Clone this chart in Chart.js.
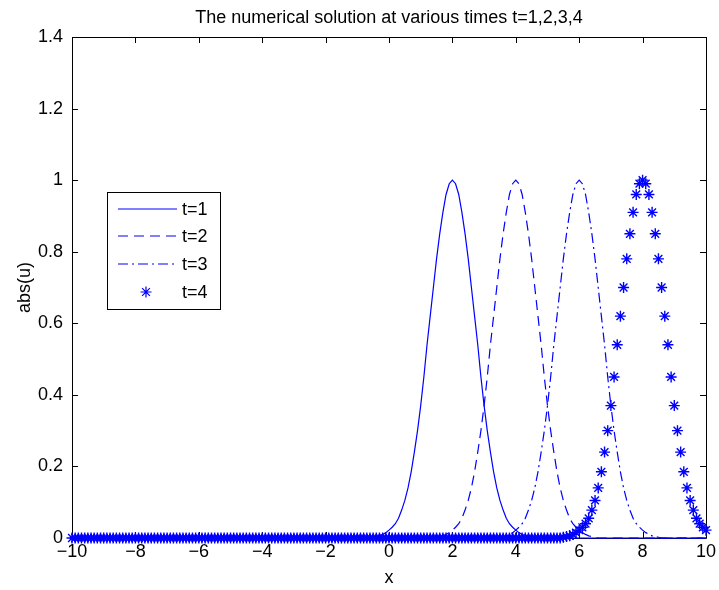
<!DOCTYPE html>
<html>
<head>
<meta charset="utf-8">
<script src="https://cdn.jsdelivr.net/npm/chart.js@4.4.1/dist/chart.umd.min.js"></script>
<style>
  html, body { margin: 0; padding: 0; background: #fff; }
  #wrap { width: 719px; height: 590px; }
</style>
</head>
<body>
<div id="wrap"><canvas id="c" width="719" height="590"></canvas></div>
<script>
// ---- data ----
const xGrid = [
-10,-9.9,-9.8,-9.7,-9.6,-9.5,-9.4,-9.3,-9.2,-9.1,
-9,-8.9,-8.8,-8.7,-8.6,-8.5,-8.4,-8.3,-8.2,-8.1,
-8,-7.9,-7.8,-7.7,-7.6,-7.5,-7.4,-7.3,-7.2,-7.1,
-7,-6.9,-6.8,-6.7,-6.6,-6.5,-6.4,-6.3,-6.2,-6.1,
-6,-5.9,-5.8,-5.7,-5.6,-5.5,-5.4,-5.3,-5.2,-5.1,
-5,-4.9,-4.8,-4.7,-4.6,-4.5,-4.4,-4.3,-4.2,-4.1,
-4,-3.9,-3.8,-3.7,-3.6,-3.5,-3.4,-3.3,-3.2,-3.1,
-3,-2.9,-2.8,-2.7,-2.6,-2.5,-2.4,-2.3,-2.2,-2.1,
-2,-1.9,-1.8,-1.7,-1.6,-1.5,-1.4,-1.3,-1.2,-1.1,
-1,-0.9,-0.8,-0.7,-0.6,-0.5,-0.4,-0.3,-0.2,-0.1,
0,0.1,0.2,0.3,0.4,0.5,0.6,0.7,0.8,0.9,
1,1.1,1.2,1.3,1.4,1.5,1.6,1.7,1.8,1.9,
2,2.1,2.2,2.3,2.4,2.5,2.6,2.7,2.8,2.9,
3,3.1,3.2,3.3,3.4,3.5,3.6,3.7,3.8,3.9,
4,4.1,4.2,4.3,4.4,4.5,4.6,4.7,4.8,4.9,
5,5.1,5.2,5.3,5.4,5.5,5.6,5.7,5.8,5.9,
6,6.1,6.2,6.3,6.4,6.5,6.6,6.7,6.8,6.9,
7,7.1,7.2,7.3,7.4,7.5,7.6,7.7,7.8,7.9,
8,8.1,8.2,8.3,8.4,8.5,8.6,8.7,8.8,8.9,
9,9.1,9.2,9.3,9.4,9.5,9.6,9.7,9.8,9.9,
10];

const u_t1 = [
0,0,0,0,0,0,0,0,0,0, 0,0,0,0,0,0,0,0,0,0, 0,0,0,0,0,0,0,0,0,0,
0,0,0,0,0,0,0,0,0,0, 0,0,0,0,0,0,0,0,0,0, 0,0,0,0,0,0,0,0,0,0,
0,0,0,0,0,0,0,0,0,0, 0,0,0,0,0,0,0,0,0,0, 0,0,0,0,0,0,0,0,0,0,
0,0,0,0,0,
.002,.004,.006,.01,.015,.022,.03,.04,.055,.078,.105,.14,.185,.24,.30,.37,.45,.54,.62,.70,.78,.85,.91,.96,.99,
1.0,
.99,.96,.91,.85,.78,.70,.62,.54,.45,.37,.30,.24,.185,.14,.105,.078,.055,.04,.03,.022,.015,.01,.006,.004,.002,
0,0,0,0,0,0,0,0,0,0, 0,0,0,0,0,0,0,0,0,0, 0,0,0,0,0,0,0,0,0,0,
0,0,0,0,0,0,0,0,0,0, 0,0,0,0,0,0,0,0,0,0, 0,0,0,0,0];

const u_t2 = [
0,0,0,0,0,0,0,0,0,0, 0,0,0,0,0,0,0,0,0,0, 0,0,0,0,0,0,0,0,0,0,
0,0,0,0,0,0,0,0,0,0, 0,0,0,0,0,0,0,0,0,0, 0,0,0,0,0,0,0,0,0,0,
0,0,0,0,0,0,0,0,0,0, 0,0,0,0,0,0,0,0,0,0, 0,0,0,0,0,0,0,0,0,0,
0,0,0,0,0,0,0,0,0,0, 0,0,0,0,0,0,0,0,0,0,
0,0,0,0,0,
.002,.004,.006,.01,.015,.022,.03,.04,.055,.078,.105,.14,.185,.24,.30,.37,.45,.54,.62,.70,.78,.85,.91,.96,.99,
1.0,
.99,.96,.91,.85,.78,.70,.62,.54,.45,.37,.30,.24,.185,.14,.105,.078,.055,.04,.03,.022,.015,.01,.006,.004,.002,
0,0,0,0,0,0,0,0,0,0, 0,0,0,0,0,0,0,0,0,0, 0,0,0,0,0,0,0,0,0,0,
0,0,0,0,0];

const u_t3 = [
0,0,0,0,0,0,0,0,0,0, 0,0,0,0,0,0,0,0,0,0, 0,0,0,0,0,0,0,0,0,0,
0,0,0,0,0,0,0,0,0,0, 0,0,0,0,0,0,0,0,0,0, 0,0,0,0,0,0,0,0,0,0,
0,0,0,0,0,0,0,0,0,0, 0,0,0,0,0,0,0,0,0,0, 0,0,0,0,0,0,0,0,0,0,
0,0,0,0,0,0,0,0,0,0, 0,0,0,0,0,0,0,0,0,0, 0,0,0,0,0,0,0,0,0,0,
0,0,0,0,0,0,0,0,0,0,
0,0,0,0,0,
.002,.004,.006,.01,.015,.022,.03,.04,.055,.078,.105,.14,.185,.24,.30,.37,.45,.54,.62,.70,.78,.85,.91,.96,.99,
1.0,
.99,.96,.91,.85,.78,.70,.62,.54,.45,.37,.30,.24,.185,.14,.105,.078,.055,.04,.03,.022,.015,.01,.006,.004,.002,
0,0,0,0,0,0,0,0,0,0,
0,0,0,0,0];

const u_t4 = [
0,0,0,0,0,0,0,0,0,0, 0,0,0,0,0,0,0,0,0,0, 0,0,0,0,0,0,0,0,0,0,
0,0,0,0,0,0,0,0,0,0, 0,0,0,0,0,0,0,0,0,0, 0,0,0,0,0,0,0,0,0,0,
0,0,0,0,0,0,0,0,0,0, 0,0,0,0,0,0,0,0,0,0, 0,0,0,0,0,0,0,0,0,0,
0,0,0,0,0,0,0,0,0,0, 0,0,0,0,0,0,0,0,0,0, 0,0,0,0,0,0,0,0,0,0,
0,0,0,0,0,0,0,0,0,0, 0,0,0,0,0,0,0,0,0,0, 0,0,0,0,0,0,0,0,0,0,
0,0,0,0,0,
.002,.004,.006,.01,.015,.022,.03,.04,.055,.078,.105,.14,.185,.24,.30,.37,.45,.54,.62,.70,.78,.85,.91,.96,.99,
1.0,
.99,.96,.91,.85,.78,.70,.62,.54,.45,.37,.30,.24,.185,.14,.105,.078,.055,.04,.03,.022];

const seriesNames = ['t=1', 't=2', 't=3', 't=4'];
const xTicks = [-10, -8, -6, -4, -2, 0, 2, 4, 6, 8, 10];
const yTicks = [0, 0.2, 0.4, 0.6, 0.8, 1, 1.2, 1.4];
const titleText = 'The numerical solution at various times t=1,2,3,4';
const xLabel = 'x';
const yLabel = 'abs(u)';

// ---- styling ----
const BLUE = '#0000ff';
const FONT = "'Liberation Sans', Arial, Helvetica, sans-serif";
const FS = 18;

const lens = [u_t1, u_t2, u_t3, u_t4].map(a => a.length);
if (lens.some(l => l !== xGrid.length)) console.error('length mismatch', lens, xGrid.length);

const dashes = [[], [10, 6], [10, 4, 2, 4], []];

// title centred over the axes box, as MATLAB does
const axesTitle = {
  id: 'axesTitle',
  afterDraw(chart) {
    const { ctx, chartArea: a } = chart;
    ctx.save();
    ctx.fillStyle = '#000';
    ctx.font = FS + 'px ' + FONT;
    ctx.textAlign = 'center';
    ctx.textBaseline = 'middle';
    ctx.fillText(titleText, (a.left + a.right) / 2, 18);
    ctx.restore();
  }
};

const axesBox = {
  id: 'axesBox',
  beforeDatasetsDraw(chart) {
    const { ctx, chartArea: a, scales } = chart;
    ctx.save();
    ctx.strokeStyle = '#000';
    ctx.lineWidth = 1;
    ctx.beginPath();
    ctx.rect(Math.round(a.left) + 0.5, Math.round(a.top) + 0.5,
             Math.round(a.right - a.left), Math.round(a.bottom - a.top));
    ctx.stroke();
    const tl = 6;
    ctx.beginPath();
    xTicks.forEach(v => {
      const px = Math.round(scales.x.getPixelForValue(v)) + 0.5;
      ctx.moveTo(px, a.bottom); ctx.lineTo(px, a.bottom - tl);
      ctx.moveTo(px, a.top); ctx.lineTo(px, a.top + tl);
    });
    yTicks.forEach(v => {
      const py = Math.round(scales.y.getPixelForValue(v)) + 0.5;
      ctx.moveTo(a.left, py); ctx.lineTo(a.left + tl, py);
      ctx.moveTo(a.right, py); ctx.lineTo(a.right - tl, py);
    });
    ctx.stroke();
    ctx.restore();
  }
};

const boxLegend = {
  id: 'boxLegend',
  afterDraw(chart) {
    const { ctx } = chart;
    const L = 107, T = 192, W = 113, H = 117;
    ctx.save();
    ctx.fillStyle = '#fff';
    ctx.fillRect(L, T, W, H);
    ctx.strokeStyle = '#000';
    ctx.lineWidth = 1;
    ctx.strokeRect(L + 0.5, T + 0.5, W, H);
    const rowY = [209, 236, 264, 292];
    chart.data.datasets.forEach((ds, i) => {
      const y = rowY[i];
      ctx.strokeStyle = BLUE;
      ctx.fillStyle = BLUE;
      if (i < 3) {
        ctx.lineWidth = 1.2;
        ctx.setLineDash(dashes[i]);
        ctx.beginPath();
        ctx.moveTo(118, y);
        ctx.lineTo(177, y);
        ctx.stroke();
        ctx.setLineDash([]);
      } else {
        Chart.helpers.drawPoint(ctx, { pointStyle: 'star', radius: 5.5, borderWidth: 1.4 }, 146, y);
      }
      ctx.fillStyle = '#000';
      ctx.font = FS + 'px ' + FONT;
      ctx.textBaseline = 'middle';
      ctx.textAlign = 'left';
      ctx.fillText(ds.label, 182, y + 1);
    });
    ctx.restore();
  }
};

const datasets = [u_t1, u_t2, u_t3, u_t4].map((arr, i) => ({
  label: seriesNames[i],
  data: arr,
  borderColor: BLUE,
  backgroundColor: BLUE,
  borderWidth: i < 3 ? 1.2 : 0,
  borderDash: dashes[i],
  showLine: i < 3,
  pointRadius: i < 3 ? 0 : 5.5,
  pointStyle: 'star',
  pointBorderWidth: 1.4,
  pointBorderColor: BLUE,
  tension: 0,
  clip: 7,
  order: 3 - i
}));

new Chart(document.getElementById('c'), {
  type: 'line',
  data: { labels: xGrid, datasets },
  options: {
    responsive: false,
    animation: false,
    events: [],
    layout: { padding: { left: 0, right: 13, top: 37, bottom: 0 } },
    plugins: {
      legend: { display: false },
      tooltip: { enabled: false },
      title: { display: false }
    },
    scales: {
      x: {
        type: 'linear',
        min: -10, max: 10,
        afterBuildTicks: s => { s.ticks = xTicks.map(v => ({ value: v })); },
        afterFit: s => { s.height = 52; },
        grid: { display: false, drawTicks: false },
        border: { display: false },
        ticks: {
          color: '#000', font: { family: FONT, size: FS },
          padding: 3, maxRotation: 0, autoSkip: false,
          callback: v => String(v).replace('-', '\u2212')
        },
        title: {
          display: true, text: xLabel, color: '#000',
          font: { family: FONT, size: FS }, padding: { top: 0, bottom: 1 }
        }
      },
      y: {
        type: 'linear',
        min: 0, max: 1.4,
        afterBuildTicks: s => { s.ticks = yTicks.map(v => ({ value: v })); },
        afterFit: s => { s.width = 72; },
        grid: { display: false, drawTicks: false },
        border: { display: false },
        ticks: {
          color: '#000', font: { family: FONT, size: FS },
          padding: 9, autoSkip: false,
          callback: v => String(v)
        },
        title: {
          display: true, text: yLabel, color: '#000',
          font: { family: FONT, size: FS }, padding: { top: 14, bottom: 0 }
        }
      }
    }
  },
  plugins: [axesBox, boxLegend, axesTitle]
});
</script>
</body>
</html>
